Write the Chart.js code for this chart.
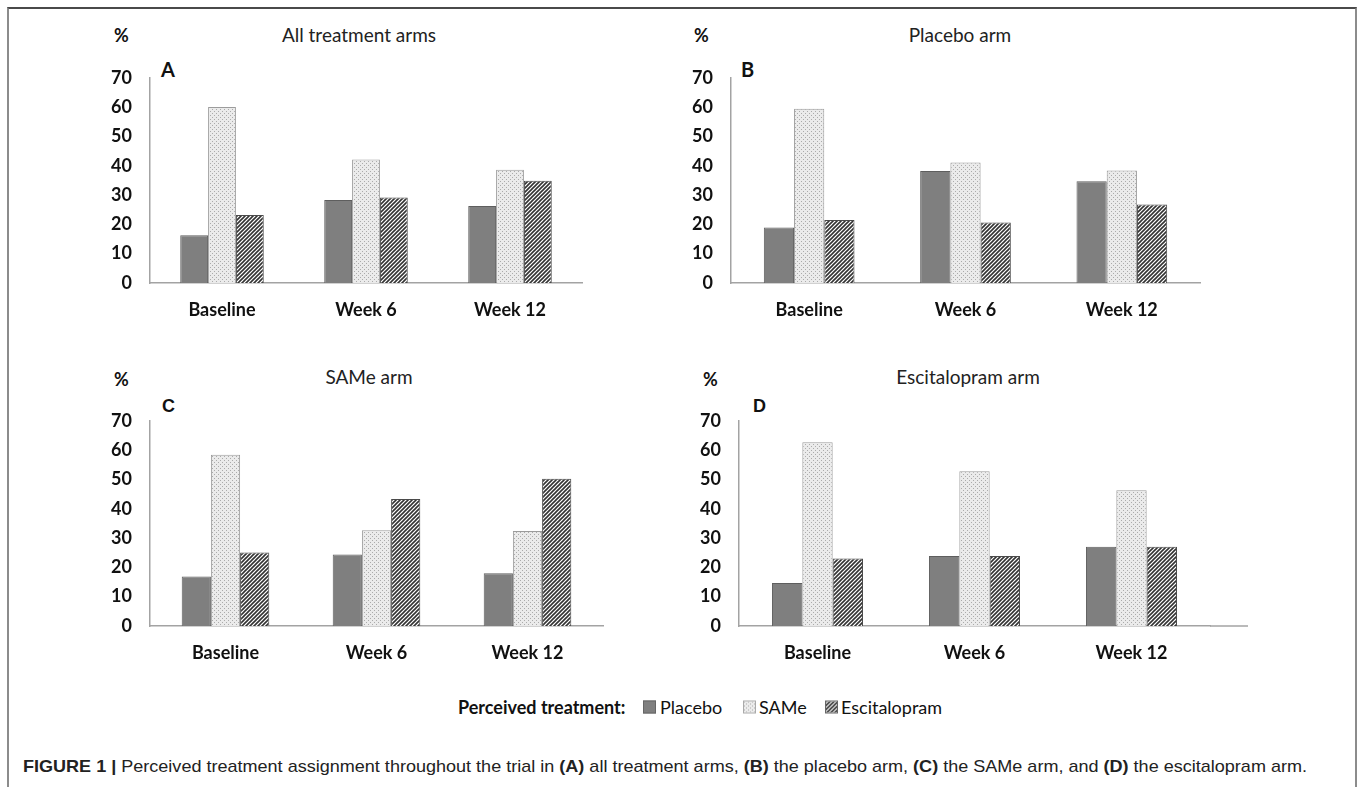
<!DOCTYPE html>
<html lang="en">
<head>
<meta charset="UTF-8">
<title>Perceived treatment assignment</title>
<script src="https://cdn.jsdelivr.net/npm/chart.js"></script>
<style>
    body { margin: 0; background: #fff; width: 1358px; height: 787px; overflow: hidden; position: relative; font-family: Lato, "Open Sans", sans-serif; color: #111; }
    .frame { position: absolute; left: 7px; top: 7px; width: 1346px; height: 820px; border-top: 2px solid #4a4a4a; border-left: 2px solid #8c8c8c; border-right: 2px solid #8c8c8c; }
    .panel { position: absolute; }
    .title { position: absolute; font-size: 19px; transform: translate(-50%, -50%); white-space: nowrap; color: #222; }
    .pct { position: absolute; font-weight: bold; font-size: 18px; transform: translateY(-50%); }
    .letter { position: absolute; font-weight: bold; font-size: 20px; transform: translateY(-50%); }
    .legend { position: absolute; font-size: 18px; transform: translateY(-50%); white-space: nowrap; }
    .sw { position: absolute; width: 11px; height: 11px; transform: translateY(-50%); border: 1px solid #666; }
    #caption { position: absolute; left: 23px; top: 767px; transform-origin: left center; font-family: "Liberation Sans", Arial, sans-serif; font-size: 17px; white-space: nowrap; color: #222; margin-top: -10px; line-height: 20px; }
</style>
</head>
<body>
<div class="frame"></div>

<div id="labels"></div>

<canvas id="chartA" class="panel"></canvas>
<canvas id="chartB" class="panel"></canvas>
<canvas id="chartC" class="panel"></canvas>
<canvas id="chartD" class="panel"></canvas>

<div class="legend" style="left:458px; top:707px; font-weight:bold;">Perceived treatment:</div>
<div class="sw" id="swP" style="left:643px; top:707px;"></div>
<div class="legend" style="left:660px; top:707px;">Placebo</div>
<div class="sw" id="swS" style="left:743px; top:707px; border-color:#aaa;"></div>
<div class="legend" style="left:759px; top:707px;">SAMe</div>
<div class="sw" id="swE" style="left:825px; top:707px;"></div>
<div class="legend" style="left:841px; top:707px;">Escitalopram</div>

<div id="caption"><b>FIGURE 1 |</b> Perceived treatment assignment throughout the trial in <b>(A)</b> all treatment arms, <b>(B)</b> the placebo arm, <b>(C)</b> the SAMe arm, and <b>(D)</b> the escitalopram arm.</div>

<script>
// data (%)
const categories = ["Baseline", "Week 6", "Week 12"];
const seriesNames = ["Placebo", "SAMe", "Escitalopram"];
const yTicks = [0, 10, 20, 30, 40, 50, 60, 70];

const panelTitles = ["All treatment arms", "Placebo arm", "SAMe arm", "Escitalopram arm"];
const panelLetters = ["A", "B", "C", "D"];

const allPlacebo = [16.3, 28.3, 26.3];
const allSame = [60.0, 42.1, 38.6];
const allEsc = [23.2, 29.2, 34.9];

const placeboArmPlacebo = [18.9, 38.2, 34.7];
const placeboArmSame = [59.4, 41.1, 38.4];
const placeboArmEsc = [21.5, 20.6, 26.8];

const sameArmPlacebo = [16.9, 24.4, 18.0];
const sameArmSame = [58.4, 32.7, 32.4];
const sameArmEsc = [25.1, 43.3, 50.2];

const escArmPlacebo = [14.7, 23.9, 27.0];
const escArmSame = [62.7, 52.8, 46.3];
const escArmEsc = [23.0, 23.9, 27.0];

// layout of each panel: plot area left/top, plot width, extra axis line on the right
const panels = [
    { id: "chartA", left: 150, top: 63, width: 432, ext: 0, data: [allPlacebo, allSame, allEsc],
      title: [359, 34], pct: [114, 35], letter: [161, 69] },
    { id: "chartB", left: 731, top: 63, width: 469, ext: 0, data: [placeboArmPlacebo, placeboArmSame, placeboArmEsc],
      title: [960, 34], pct: [694, 35], letter: [741, 69] },
    { id: "chartC", left: 150, top: 406, width: 453, ext: 0, data: [sameArmPlacebo, sameArmSame, sameArmEsc],
      title: [369, 376], pct: [114, 379], letter: [162, 406] },
    { id: "chartD", left: 739, top: 406, width: 471, ext: 38, data: [escArmPlacebo, escArmSame, escArmEsc],
      title: [968, 376], pct: [703, 379], letter: [753, 406] }
];

const Y_W = 50, PAD_TOP = 14, X_H = 50, PLOT_H = 220;
const axisColor = "#a3a3a3";

function dotPattern() {
    const c = document.createElement("canvas");
    c.width = 4; c.height = 4;
    const g = c.getContext("2d");
    g.fillStyle = "#ebebeb";
    g.fillRect(0, 0, 4, 4);
    g.fillStyle = "#ababab";
    g.fillRect(0, 0, 1, 1);
    g.fillRect(2, 2, 1, 1);
    return c;
}

function hatchPattern() {
    const c = document.createElement("canvas");
    c.width = 4; c.height = 4;
    const g = c.getContext("2d");
    g.fillStyle = "#ffffff";
    g.fillRect(0, 0, 4, 4);
    g.strokeStyle = "#333333";
    g.lineWidth = 1.6;
    g.beginPath();
    g.moveTo(-1, 5); g.lineTo(5, -1);
    g.moveTo(-1, 1); g.lineTo(1, -1);
    g.moveTo(3, 5); g.lineTo(5, 3);
    g.stroke();
    return c;
}

const tmp = document.createElement("canvas").getContext("2d");
const dotFill = tmp.createPattern(dotPattern(), "repeat");
const hatchFill = tmp.createPattern(hatchPattern(), "repeat");
const placeboFill = "#7f7f7f";

document.getElementById("swP").style.background = placeboFill;
document.getElementById("swS").style.background = "url(" + dotPattern().toDataURL() + ")";
document.getElementById("swE").style.background = "url(" + hatchPattern().toDataURL() + ")";

// extends the x axis line past the last category (panel D)
const axisExtension = {
    id: "axisExtension",
    afterDraw(chart, args, opts) {
        if (!opts.ext) return;
        const { ctx, chartArea } = chart;
        ctx.save();
        ctx.strokeStyle = axisColor;
        ctx.lineWidth = 1.5;
        ctx.beginPath();
        ctx.moveTo(chartArea.right, chartArea.bottom);
        ctx.lineTo(chartArea.right + opts.ext, chartArea.bottom);
        ctx.stroke();
        ctx.restore();
    }
};

const labels = document.getElementById("labels");
function addText(cls, text, x, y, extraStyle) {
    const d = document.createElement("div");
    d.className = cls;
    d.textContent = text;
    d.style.left = x + "px";
    d.style.top = y + "px";
    if (extraStyle) d.style.cssText += extraStyle;
    labels.appendChild(d);
}

panels.forEach((p, i) => {
    addText("title", panelTitles[i], p.title[0], p.title[1]);
    addText("pct", "%", p.pct[0], p.pct[1]);
    addText("letter", panelLetters[i], p.letter[0], p.letter[1],
        i >= 2 ? "font-family:'Liberation Sans', Arial, sans-serif; font-size:18px;" : "");

    const cv = document.getElementById(p.id);
    const rightPad = 4 + p.ext;
    cv.width = Y_W + p.width + rightPad;
    cv.height = PAD_TOP + PLOT_H + X_H;
    cv.style.left = (p.left - Y_W) + "px";
    cv.style.top = (p.top - PAD_TOP) + "px";

    new Chart(cv, {
        type: "bar",
        data: {
            labels: categories,
            datasets: [
                { label: seriesNames[0], data: p.data[0], backgroundColor: placeboFill, borderColor: "#5e5e5e", borderWidth: 1 },
                { label: seriesNames[1], data: p.data[1], backgroundColor: dotFill, borderColor: "#9c9c9c", borderWidth: 1 },
                { label: seriesNames[2], data: p.data[2], backgroundColor: hatchFill, borderColor: "#4a4a4a", borderWidth: 1 }
            ]
        },
        options: {
            responsive: false,
            animation: false,
            layout: { padding: { top: PAD_TOP, right: rightPad, left: 0, bottom: 0 } },
            datasets: { bar: { categoryPercentage: 0.58, barPercentage: 1.0 } },
            plugins: {
                legend: { display: false },
                tooltip: { enabled: false },
                axisExtension: { ext: p.ext }
            },
            scales: {
                x: {
                    grid: { display: false, drawTicks: false },
                    border: { display: true, color: axisColor, width: 1.5 },
                    ticks: { color: "#111", padding: 16, font: { family: "Lato", weight: "bold", size: 18 } },
                    afterFit(scale) { scale.height = X_H; }
                },
                y: {
                    min: yTicks[0],
                    max: yTicks[yTicks.length - 1],
                    grid: { display: false, drawTicks: false },
                    border: { display: true, color: axisColor, width: 1.5 },
                    ticks: { stepSize: yTicks[1] - yTicks[0], color: "#111", padding: 18, font: { family: "Lato", weight: "bold", size: 18 } },
                    afterFit(scale) { scale.width = Y_W; }
                }
            }
        },
        plugins: [axisExtension]
    });
});

// fit the caption to the width it takes in the figure
const cap = document.getElementById("caption");
const w = cap.getBoundingClientRect().width;
cap.style.transform = "scaleX(" + (1284 / w) + ")";
</script>
</body>
</html>
